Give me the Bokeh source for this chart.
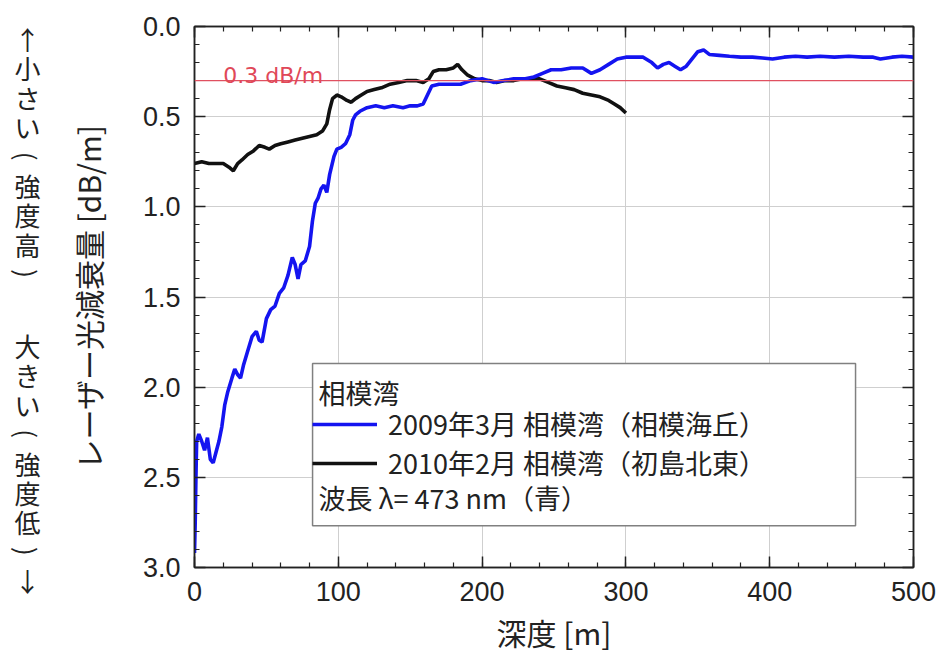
import math
from bokeh.plotting import figure
from bokeh.models import (Range1d, SingleIntervalTicker, LinearAxis, Legend, LegendItem,
                          Label, Span, BoxAnnotation, PrintfTickFormatter, Grid,
                          CustomJSTickFormatter)
from bokeh.layouts import row
from bokeh.core.properties import value
from bokeh.embed import file_html
from bokeh.resources import INLINE

# ---- data ----
depth_2009 = [0, 0.5, 1, 1.5, 3, 5, 7, 9, 11, 13, 15, 17, 19, 21, 23, 26, 28, 30, 32, 34,
              37, 40, 43, 45, 47, 50, 53, 56, 59, 62, 65, 68, 70, 72, 74, 77, 80, 82, 84, 86,
              88, 90, 92, 94, 97, 99, 102, 105, 108, 110, 112, 115, 120, 126, 132, 138, 145,
              150, 155, 159, 162, 165, 170, 178, 185, 192, 200, 208, 215, 222, 230, 236, 242,
              248, 255, 262, 270, 276, 282, 288, 294, 300, 306, 312, 318, 322, 326, 330, 334,
              338, 342, 346, 350, 354, 358, 365, 372, 380, 388, 395, 402, 410, 418, 426, 435,
              445, 455, 465, 472, 477, 485, 492, 500]
atten_2009 = [2.92, 2.75, 2.50, 2.30, 2.26, 2.30, 2.35, 2.28, 2.40, 2.42, 2.36, 2.30, 2.22,
              2.10, 2.03, 1.95, 1.90, 1.93, 1.95, 1.88, 1.80, 1.72, 1.69, 1.74, 1.75, 1.62,
              1.57, 1.55, 1.48, 1.45, 1.38, 1.28, 1.32, 1.40, 1.32, 1.30, 1.22, 1.08, 0.98,
              0.95, 0.90, 0.88, 0.92, 0.82, 0.72, 0.68, 0.67, 0.65, 0.60, 0.52, 0.49, 0.47,
              0.45, 0.44, 0.45, 0.44, 0.45, 0.44, 0.44, 0.43, 0.38, 0.33, 0.32, 0.32, 0.32,
              0.30, 0.29, 0.31, 0.30, 0.29, 0.29, 0.28, 0.26, 0.24, 0.24, 0.23, 0.23, 0.26,
              0.24, 0.21, 0.18, 0.17, 0.17, 0.17, 0.20, 0.23, 0.21, 0.20, 0.22, 0.24, 0.22,
              0.18, 0.14, 0.13, 0.155, 0.16, 0.165, 0.17, 0.17, 0.175, 0.18, 0.17, 0.165,
              0.17, 0.165, 0.17, 0.165, 0.17, 0.17, 0.18, 0.17, 0.165, 0.17]

depth_2010 = [0, 5, 10, 15, 20, 24, 27, 30, 33, 37, 41, 45, 49, 52, 56, 60, 65, 70, 75, 80,
              85, 89, 92, 94, 96, 99, 102, 106, 109, 112, 116, 120, 125, 130, 136, 142, 148,
              154, 159, 163, 166, 170, 175, 180, 183, 186, 190, 195, 200, 205, 210, 216, 222,
              228, 234, 240, 246, 252, 258, 264, 270, 276, 282, 288, 292, 296, 300]
atten_2010 = [0.76, 0.75, 0.76, 0.76, 0.76, 0.78, 0.80, 0.76, 0.74, 0.71, 0.69, 0.66, 0.67,
              0.68, 0.66, 0.65, 0.64, 0.63, 0.62, 0.61, 0.60, 0.58, 0.54, 0.46, 0.40, 0.38,
              0.39, 0.41, 0.42, 0.40, 0.38, 0.36, 0.35, 0.34, 0.32, 0.31, 0.30, 0.30, 0.31,
              0.29, 0.25, 0.24, 0.24, 0.23, 0.21, 0.24, 0.27, 0.29, 0.30, 0.30, 0.31, 0.30,
              0.30, 0.29, 0.29, 0.29, 0.31, 0.33, 0.34, 0.35, 0.37, 0.38, 0.39, 0.41, 0.43,
              0.45, 0.48]

threshold = 0.3
threshold_label = "0.3 dB/m"
label_2009 = "2009年3月 相模湾（相模海丘）"
label_2010 = "2010年2月 相模湾（初島北東）"
legend_title = "相模湾"
legend_note = "波長 λ= 473 nm（青）"
x_title = "深度 [m]"
y_title = "レーザー光減衰量 [dB/m]"
# vertical captions, one character per line; parentheses are turned for vertical writing
side_top_chars = ["↑", "小", "さ", "い", "(", "強", "度", "高", ")"]
side_bottom_chars = ["大", "き", "い", "(", "強", "度", "低", ")", "↓"]

JP = "Noto Sans CJK JP"
NUM = "Liberation Sans"
INK = "#222222"
H = 658
SIDE_W = 56

def turn(chars):
    return [-math.pi / 2 if c in "()" else 0.0 for c in chars]

# ---- narrow left panel with the vertical captions ----
side = figure(frame_width=SIDE_W, frame_height=H, output_backend="svg", toolbar_location=None,
              title=None, x_range=Range1d(0, SIDE_W), y_range=Range1d(H, 0),
              min_border=0, x_axis_location=None, y_axis_location=None)
side.outline_line_color = None
side.xgrid.visible = False
side.ygrid.visible = False
side.background_fill_color = "white"
side.border_fill_color = "white"
pitch = 29.4
top_y = [12 + i * pitch for i in range(len(side_top_chars))]
bot_y = [319 + i * pitch for i in range(len(side_bottom_chars))]
side.text(x=[27] * len(side_top_chars), y=top_y, text=side_top_chars,
          angle=turn(side_top_chars),
          text_font=value(JP), text_font_size="26px", text_color=INK,
          text_align="center", text_baseline="middle")
side.text(x=[27] * len(side_bottom_chars), y=bot_y, text=side_bottom_chars,
          angle=turn(side_bottom_chars),
          text_font=value(JP), text_font_size="26px", text_color=INK,
          text_align="center", text_baseline="middle")

# ---- main chart ----
p = figure(width=943 - SIDE_W, height=H, output_backend="svg", toolbar_location=None,
           x_range=Range1d(0, 500), y_range=Range1d(3.0, 0.0),
           min_border_left=194 - SIDE_W, min_border_right=30, min_border_top=26,
           min_border_bottom=91, x_axis_location=None, y_axis_location=None)
p.outline_line_color = INK
p.outline_line_width = 1.5
p.background_fill_color = "white"
p.border_fill_color = "white"

def make_axis(ticker, show_labels, **kw):
    ax = LinearAxis(ticker=ticker, **kw)
    ax.major_tick_in = 11
    ax.major_tick_out = 0
    ax.minor_tick_in = 5
    ax.minor_tick_out = 0
    ax.axis_line_color = INK
    ax.axis_line_width = 1.5
    ax.major_tick_line_color = INK
    ax.minor_tick_line_color = INK
    ax.major_tick_line_width = 1.5
    ax.minor_tick_line_width = 1.2
    if show_labels:
        ax.major_label_text_font = NUM
        ax.major_label_text_font_size = "27px"
        ax.major_label_text_color = INK
        ax.axis_label_text_font = JP
        ax.axis_label_text_font_size = "30px"
        ax.axis_label_text_font_style = "normal"
        ax.axis_label_text_color = INK
    else:
        ax.formatter = CustomJSTickFormatter(code="return ''")
        ax.major_label_standoff = 0
    return ax

xt = SingleIntervalTicker(interval=100, num_minor_ticks=5)
yt = SingleIntervalTicker(interval=0.5, num_minor_ticks=5)

xb = make_axis(xt, True, axis_label=x_title)
xb.major_label_standoff = 14
xb.axis_label_standoff = 6
p.add_layout(xb, "below")
p.add_layout(make_axis(xt, False), "above")

yl = make_axis(yt, True, axis_label=y_title, formatter=PrintfTickFormatter(format="%.1f"))
yl.major_label_standoff = 14
yl.axis_label_standoff = 30
p.add_layout(yl, "left")
p.add_layout(make_axis(yt, False), "right")

p.add_layout(Grid(dimension=0, ticker=xt, grid_line_color="#cfcfcf", grid_line_width=1))
p.add_layout(Grid(dimension=1, ticker=yt, grid_line_color="#cfcfcf", grid_line_width=1))

p.add_layout(Span(location=threshold, dimension="width", line_color="#e05060", line_width=1.2))
p.add_layout(Label(x=20, y=0.27, text=threshold_label, text_font="DejaVu Sans",
                   text_font_size="22px", text_color="#e04858", text_baseline="alphabetic"))

r_blk = p.line(depth_2010, atten_2010, line_color="#111111", line_width=3.6)
r_blu = p.line(depth_2009, atten_2009, line_color="#1414f0", line_width=3.6)

# legend frame
p.add_layout(BoxAnnotation(left=82.1, right=459.7, top=1.869, bottom=2.768,
                           fill_color="white", fill_alpha=1.0,
                           line_color="#808080", line_width=1.5, line_alpha=1.0))

leg = Legend(items=[LegendItem(label=label_2009, renderers=[r_blu]),
                    LegendItem(label=label_2010, renderers=[r_blk])],
             location=(118, 85))
leg.label_text_font = JP
leg.label_text_font_size = "27px"
leg.label_text_color = INK
leg.glyph_width = 65
leg.label_standoff = 11
leg.label_height = 30
leg.glyph_height = 30
leg.spacing = 0
leg.padding = 5
leg.margin = 0
leg.border_line_color = None
leg.background_fill_alpha = 0
p.add_layout(leg, "center")

p.add_layout(Label(x=124, y=175, x_units="screen", y_units="screen", text=legend_title,
                   text_font=JP, text_font_size="27px", text_color=INK,
                   text_baseline="middle"))
p.add_layout(Label(x=124, y=70, x_units="screen", y_units="screen", text=legend_note,
                   text_font=JP, text_font_size="27px", text_color=INK,
                   text_baseline="middle"))

open("out.html", "w").write(file_html(row(side, p), INLINE))
